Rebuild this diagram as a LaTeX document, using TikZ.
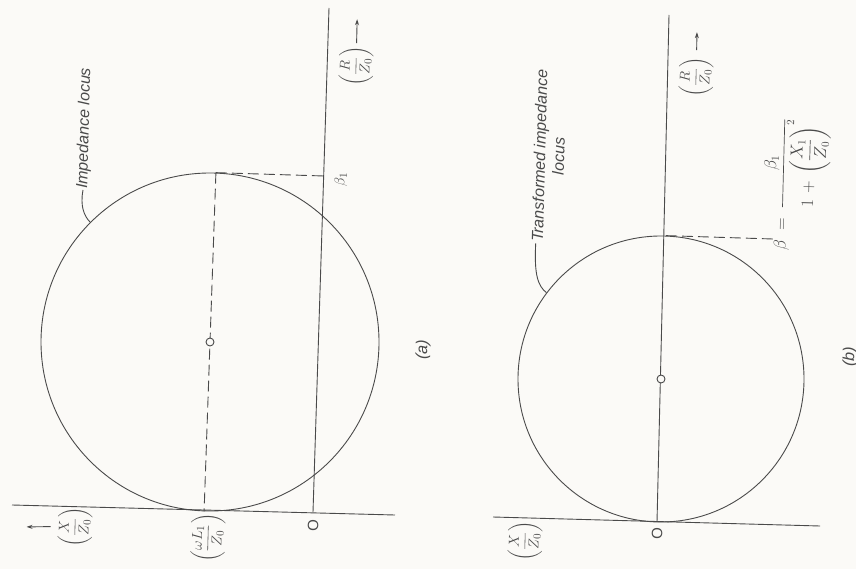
\documentclass[tikz,border=0pt]{standalone}
\usepackage{amsmath}
\usepackage{fontspec}
\setmainfont{Liberation Sans}
\usetikzlibrary{arrows.meta,calc}
\definecolor{inkc}{HTML}{4A4A4A}
\definecolor{bgc}{HTML}{FBFAF7}
\begin{document}
\begin{tikzpicture}[x=1pt,y=-1pt,
  ink/.style={draw=inkc, line width=0.9pt},
  dline/.style={ink, dash pattern=on 11pt off 5pt},
  arr/.style={ink, -{Stealth[length=6pt,width=4pt]}},
  lbl/.style={rotate=88.5, text=inkc, font=\fontsize{16}{19}\selectfont\itshape, inner sep=1pt},
  mlbl/.style={rotate=88.5, text=inkc, font=\fontsize{15}{18}\selectfont, inner sep=1pt},
  locus/.style={circle, ink, inner sep=0pt},
  ctr/.style={circle, ink, fill=bgc, inner sep=0pt, minimum size=8pt}
]
\fill[bgc] (0,0) rectangle (856,569);
\useasboundingbox (0,0) rectangle (856,569);

% ---------------- panel (a) ----------------
\coordinate (aXl) at (12,505);
\coordinate (aXr) at (395,515);
\coordinate (aO) at (313,512);
\coordinate (aRt) at (329,8);
\coordinate (aB1) at (324,176);
\draw[ink] (aXl) -- (aXr);
\draw[ink] (aO) -- (aRt);
\node[locus, minimum size=338pt] (Ca) at (210,342) {};
\draw[dline] (Ca.88.4) -- (Ca.268.4);
\draw[dline] (Ca.88.4) -- (aB1);
\node[ctr] (ca) at (210,342) {};

\node[lbl, anchor=west] (Ia) at (83,190) {Impedance locus};
\draw[ink] (Ia.west) .. controls (80,206) and (84,216) .. (Ca.135);

\node[mlbl] (Ra) at (356,66) {$\left(\dfrac{R}{Z_0}\right)$};
\draw[arr, shorten <=2pt] (Ra.east) -- ++(0.6,-26);
\node[mlbl] (b1a) at (341,179) {$\beta_1$};
\node[mlbl] (Oa) at (313,526) {O};
\node[mlbl] (Wa) at (208,538) {$\left(\dfrac{\omega L_1}{Z_0}\right)$};
\node[mlbl] (Xa) at (75,527) {$\left(\dfrac{X}{Z_0}\right)$};
\draw[arr, shorten <=6pt] (Xa.north) -- ++(-30,0.4);
\node[lbl] (la) at (423,350) {(a)};

% ---------------- panel (b) ----------------
\coordinate (bXl) at (493,517);
\coordinate (bXr) at (820,526);
\coordinate (bO) at (657,522);
\coordinate (bRt) at (669,15);
\coordinate (bB) at (773,239);
\draw[ink] (bXl) -- (bXr);
\draw[ink] (bO) -- (bRt);
\node[locus, minimum size=286pt] (Cb) at (661,379) {};
\draw[dline] (Cb.88.4) -- (bB);
\node[ctr] (cb) at (661,379) {};

\node[lbl, align=center] (Tb) at (549,156) {Transformed impedance\\locus};
\draw[ink] ([xshift=-11pt]Tb.west) .. controls (534,275) and (538,286) .. (Cb.143.6);

\node[mlbl] (Rb) at (696,77) {$\left(\dfrac{R}{Z_0}\right)$};
\draw[arr, shorten <=6pt] (Rb.east) -- ++(0.4,-24);
\node[mlbl, font=\fontsize{16}{19}\selectfont, anchor=west] (Bb) at (795,252) {$\beta\;=\;\dfrac{\beta_1}{1\,+\,\left(\dfrac{X_1}{Z_0}\right)^{2}}$};
\node[mlbl] (Ob) at (657,534) {O};
\node[mlbl] (Xb) at (525,541) {$\left(\dfrac{X}{Z_0}\right)$};
\node[lbl] (lb) at (850,357) {(b)};
\end{tikzpicture}
\end{document}
